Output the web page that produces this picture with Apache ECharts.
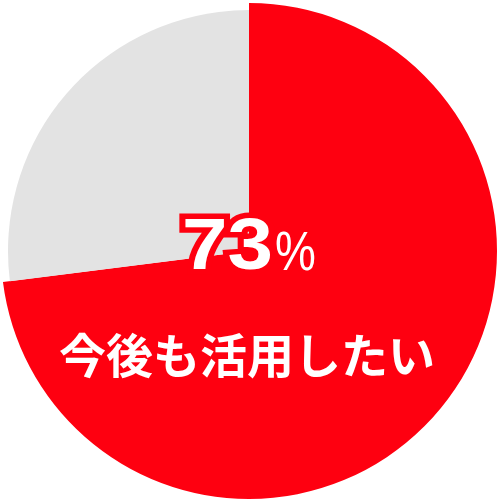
<!DOCTYPE html>
<html><head><meta charset="utf-8">
<script src="https://cdn.jsdelivr.net/npm/echarts@6/dist/echarts.min.js"></script>
<style>html,body{margin:0;padding:0;background:#fff}#c{width:500px;height:500px}</style>
</head><body><div id="c"></div>
<script>
const categories = ['今後も活用したい', 'その他'];
const values = [73, 27];
const colors = ['#fe0010', '#e3e3e3'];

const chart = echarts.init(document.getElementById('c'), null, {renderer: 'canvas'});
const base = {type: 'pie', center: [249, 251], startAngle: 90, clockwise: true, silent: true,
  label: {show: false}, labelLine: {show: false}, animation: false};
const BASELINE = 274;
function txt(text, x, align, size, weight, sx, stroke) {
  const style = {text: text, align: align, verticalAlign: 'middle',
    fontFamily: 'Liberation Sans', fontWeight: weight, fontSize: size,
    fill: stroke ? colors[0] : '#ffffff'};
  if (stroke) { style.stroke = colors[0]; style.lineWidth = 11; style.lineJoin = 'round'; }
  return {type: 'text', z: stroke ? 50 : 60, x: x, y: BASELINE - 0.347 * size,
    scaleX: sx, style: style};
}
chart.setOption({
  series: [
    Object.assign({}, base, {radius: [0, 248], z: 1,
      data: categories.map((c, i) => ({name: c, value: values[i],
        itemStyle: {color: i === 0 ? colors[0] : 'rgba(0,0,0,0)', borderWidth: 0}}))}),
    Object.assign({}, base, {radius: [0, 241], z: 2,
      data: categories.map((c, i) => ({name: c, value: values[i],
        itemStyle: {color: i === 1 ? colors[1] : 'rgba(0,0,0,0)', borderWidth: 0}}))})
  ],
  graphic: [
    txt(String(values[0]), 273, 'right', 73, 'bold', 1.12, true),
    txt('%', 275, 'left', 56, 'normal', 0.82, true),
    txt(String(values[0]), 273, 'right', 73, 'bold', 1.12, false),
    txt('%', 275, 'left', 56, 'normal', 0.82, false),
    {type: 'text', z: 60, x: 247, y: 355, style: {
      text: categories[0], align: 'center', verticalAlign: 'middle',
      fontFamily: 'Noto Sans CJK JP', fontWeight: 'bold', fontSize: 47, fill: '#fff'}}
  ]
});
</script></body></html>
